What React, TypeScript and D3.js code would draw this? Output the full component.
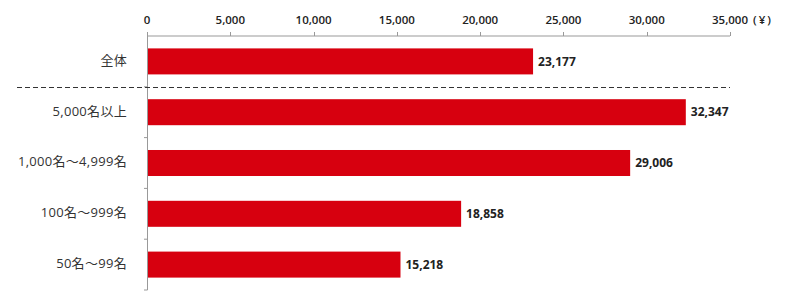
import React from "react";
import * as d3 from "d3";

const categories = ["全体", "5,000名以上", "1,000名～4,999名", "100名～999名", "50名～99名"];
const values = [23177, 32347, 29006, 18858, 15218];
const xTicks = [0, 5000, 10000, 15000, 20000, 25000, 30000, 35000];
const unitLabel = "(¥)";

export default function App() {
  const W = 800, H = 298;
  const x = d3.scaleLinear().domain([0, 35000]).range([147, 730]);
  const y = d3.scaleBand<string>().domain(categories).range([36, 290]).paddingInner(0.488).paddingOuter(0.244);
  const step = y.step();
  const fmt = d3.format(",");
  const axisY = 36;
  const red = "#d7000f";
  const font = "'Open Sans', 'Noto Sans CJK JP', sans-serif";
  return (
    <svg width={W} height={H} style={{ position: "absolute", left: 0, top: 0, background: "#fff" }} fontFamily={font}>
      {/* bars */}
      {categories.map((c, i) => (
        <rect key={c} x={x(0)} y={y(c)} width={x(values[i]) - x(0)} height={y.bandwidth()} fill={red} />
      ))}
      {/* x axis */}
      <line x1={x(0)} x2={x(35000)} y1={axisY} y2={axisY} stroke="#999" strokeWidth={1} />
      {xTicks.map((t) => (
        <g key={t}>
          <line x1={Math.round(x(t)) + 0.5} x2={Math.round(x(t)) + 0.5} y1={axisY} y2={axisY - 4} stroke="#999" />
          <text x={x(t)} y={20.5} textAnchor="middle" dominantBaseline="middle" fontSize={11.5} fontWeight={600} fill="#222">
            {fmt(t)}
          </text>
        </g>
      ))}
      <text x={753} y={20.5} textAnchor="start" dominantBaseline="middle" fontSize={11.5} fontWeight={600} letterSpacing={2} fill="#222">
        {unitLabel}
      </text>
      {/* y axis */}
      <line x1={147.5} x2={147.5} y1={axisY - 4} y2={290} stroke="#999" />
      {d3.range(1, categories.length + 1).map((i) => (
        <line key={i} x1={144} x2={147.5} y1={36 + i * step} y2={36 + i * step} stroke="#999" />
      ))}
      {/* separator */}
      <line x1={17} x2={730} y1={87.5} y2={87.5} stroke="#333" strokeWidth={1} strokeDasharray="5,3" />
      {/* category labels */}
      {categories.map((c) => (
        <text key={c} x={127} y={(y(c) as number) + y.bandwidth() / 2} textAnchor="end" dominantBaseline="middle" fontSize={13} letterSpacing={0.3} fill="#333">
          {c}
        </text>
      ))}
      {/* value labels */}
      {categories.map((c, i) => (
        <text key={c} x={x(values[i]) + 5} y={(y(c) as number) + y.bandwidth() / 2 + 1} textAnchor="start" dominantBaseline="middle" fontSize={12} fontWeight={700} fill="#222">
          {fmt(values[i])}
        </text>
      ))}
    </svg>
  );
}
